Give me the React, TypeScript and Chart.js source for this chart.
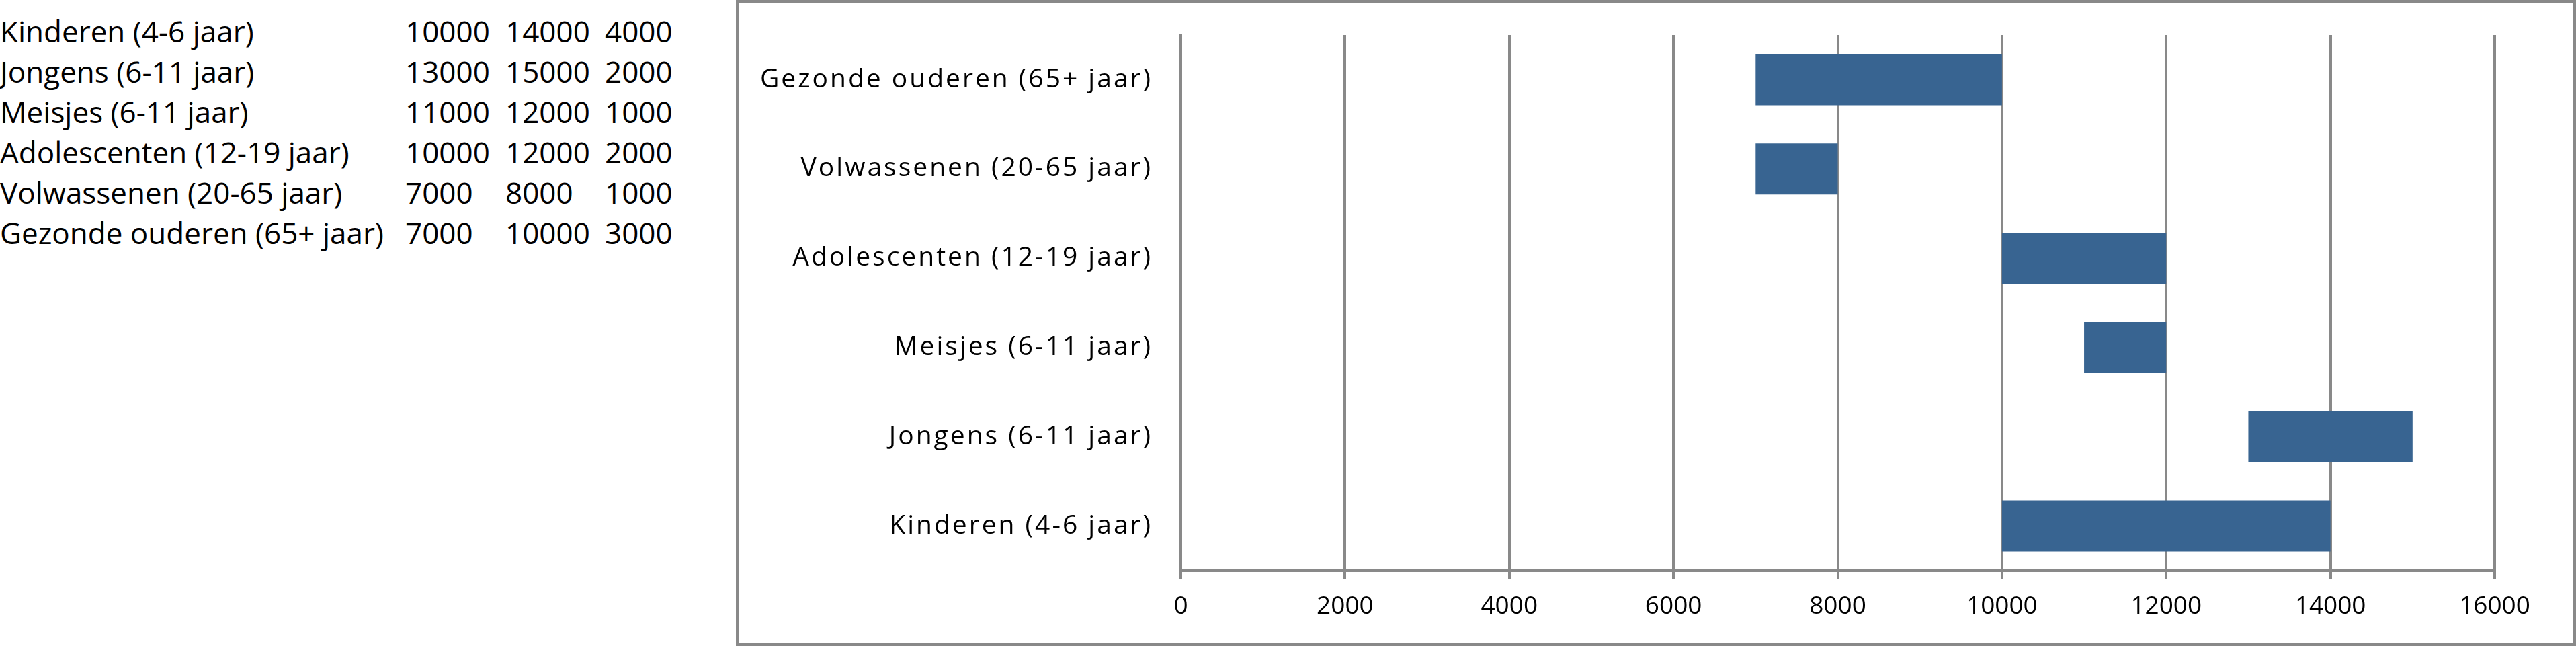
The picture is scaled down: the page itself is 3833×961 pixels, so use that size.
import React, { useEffect, useRef } from "react";
import { Chart, registerables } from "chart.js";

Chart.register(...registerables);

// ---- data ----
const categories = [
  "Kinderen (4-6 jaar)",
  "Jongens (6-11 jaar)",
  "Meisjes (6-11 jaar)",
  "Adolescenten (12-19 jaar)",
  "Volwassenen (20-65 jaar)",
  "Gezonde ouderen (65+ jaar)",
];
const startValues = [10000, 13000, 11000, 10000, 7000, 7000];
const endValues = [14000, 15000, 12000, 12000, 8000, 10000];
const durationValues = [4000, 2000, 1000, 2000, 1000, 3000];
const xTickValues = [0, 2000, 4000, 6000, 8000, 10000, 12000, 14000, 16000];

const GRID = "#898989";
const BAR = "#386491";
const FONT = "'Open Sans', sans-serif";

// Widens letter spacing of the category labels only (as in the reference rendering)
const spacedYLabels = {
  id: "spacedYLabels",
  afterLayout(chart: any) {
    const y = chart.scales.y;
    if (!y || y.__patched) return;
    const orig = y.drawLabels.bind(y);
    y.drawLabels = (area: any) => {
      const ctx = chart.ctx;
      ctx.save();
      (ctx as any).letterSpacing = "3px";
      orig(area);
      ctx.restore();
    };
    y.__patched = true;
  },
};

function ChartBox() {
  const ref = useRef<HTMLCanvasElement | null>(null);
  useEffect(() => {
    if (!ref.current) return;
    const chart = new Chart(ref.current, {
      type: "bar",
      data: {
        labels: categories,
        datasets: [
          {
            data: startValues.map((s, i) => [s, endValues[i]]) as any,
            backgroundColor: BAR,
            borderWidth: 0,
            barPercentage: 0.572,
            categoryPercentage: 1,
          },
        ],
      },
      plugins: [spacedYLabels],
      options: {
        indexAxis: "y",
        responsive: false,
        animation: false,
        devicePixelRatio: 1,
        layout: { padding: { left: 0, top: 48, right: 117, bottom: 0 } },
        plugins: { legend: { display: false }, tooltip: { enabled: false }, title: { display: false } },
        scales: {
          x: {
            type: "linear",
            min: xTickValues[0],
            max: xTickValues[xTickValues.length - 1],
            afterBuildTicks: (s: any) => {
              s.ticks = xTickValues.map((v) => ({ value: v }));
            },
            afterFit: (s: any) => {
              s.height = 108;
              s.paddingLeft = 0;
              s.paddingRight = 0;
            },
            grid: {
              display: true,
              color: GRID,
              lineWidth: 4,
              drawTicks: true,
              tickLength: 13,
              tickColor: GRID,
              tickWidth: 4,
            },
            border: { display: true, color: GRID, width: 4 },
            ticks: {
              color: "#000",
              font: { family: FONT, size: 37 },
              padding: 18,
              maxRotation: 0,
              callback: (v: any) => String(v),
            },
          },
          y: {
            type: "category",
            reverse: true,
            afterFit: (s: any) => {
              s.width = 658;
              s.paddingTop = 0;
              s.paddingBottom = 0;
            },
            grid: { display: false, drawTicks: false },
            border: { display: true, color: GRID, width: 4 },
            ticks: {
              color: "#000",
              font: { family: FONT, size: 39 },
              padding: 42,
            },
          },
        },
      },
    });
    return () => chart.destroy();
  }, []);
  return (
    <canvas
      ref={ref}
      width={2730}
      height={953}
      style={{ position: "absolute", left: 1099, top: 4, width: 2730, height: 953 }}
    />
  );
}

const colLefts = [0, 603, 752, 900];
const rowTops = [24, 84, 144, 204, 264, 324];

export default function App() {
  const cell = (text: string, left: number, top: number, key: string) => (
    <div
      key={key}
      style={{
        position: "absolute",
        left,
        top,
        fontFamily: FONT,
        fontSize: 44,
        lineHeight: "44px",
        whiteSpace: "nowrap",
        color: "#000",
      }}
    >
      {text}
    </div>
  );
  return (
    <div style={{ position: "absolute", left: 0, top: 0, width: 3833, height: 961, background: "#fff", overflow: "hidden" }}>
      {categories.map((c, i) => (
        <React.Fragment key={c}>
          {cell(c, colLefts[0], rowTops[i], "c" + i)}
          {cell(String(startValues[i]), colLefts[1], rowTops[i], "s" + i)}
          {cell(String(endValues[i]), colLefts[2], rowTops[i], "e" + i)}
          {cell(String(durationValues[i]), colLefts[3], rowTops[i], "d" + i)}
        </React.Fragment>
      ))}
      <div
        style={{
          position: "absolute",
          left: 1095,
          top: 0,
          width: 2738,
          height: 961,
          boxSizing: "border-box",
          border: `4px solid ${GRID}`,
          background: "#fff",
        }}
      />
      <ChartBox />
    </div>
  );
}
